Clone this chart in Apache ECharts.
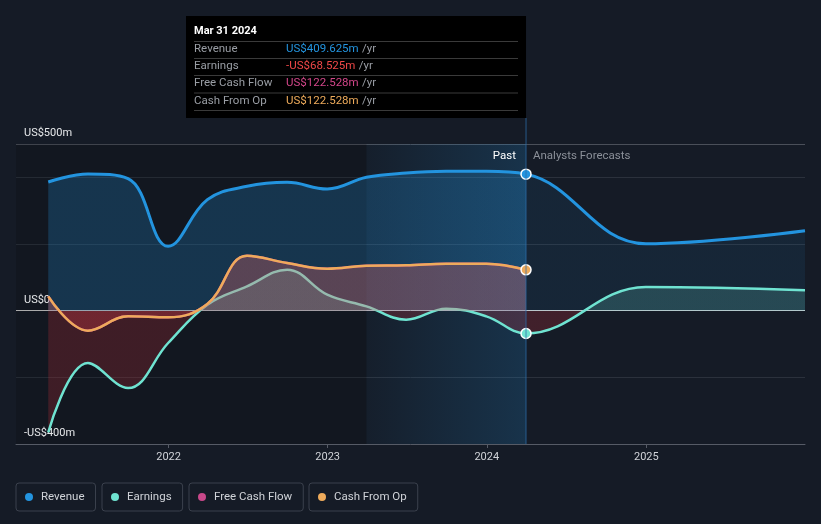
<!DOCTYPE html>
<html><head><meta charset="utf-8">
<script src="https://cdn.jsdelivr.net/npm/echarts@6/dist/echarts.min.js"></script>
<style>html,body{margin:0;padding:0;background:#151b26;}#c{width:821px;height:524px;}</style>
</head><body><div id="c"></div>
<script>
// ---- data ----
const pastDates = ['2021-03-31','2021-06-30','2021-09-30','2021-12-31','2022-03-31','2022-06-30','2022-09-30','2022-12-31','2023-03-31','2023-06-30','2023-09-30','2023-12-31','2024-03-31'];
const forecastDates = ['2024-12-31','2025-12-31'];
const revenuePast = [386,410,396,193,333,373,385,365,400,413,418,418,409.625];
const revenueForecast = [201,240];
const earningsPast = [-365,-157,-232,-97,18,73,123,48,13,-27,6,-17,-68.525];
const earningsForecast = [71,61];
const fcfPast = [43,-60,-17,-20,20,165,143,126,135,136,141,141,122.528];
const cfoPast = [43,-60,-17,-20,20,165,143,126,135,136,141,141,122.528];
const yLabelValues = [500,0,-400];
const yLabelTexts = ['US$500m','US$0','-US$400m'];
const seriesNames = ['Revenue','Earnings','Free Cash Flow','Cash From Op'];
const tooltipDate = 'Mar 31 2024';
const pastBandStart = '2023-03-31';
const axisStart = '2021-01-16';
const axisEnd = '2025-12-31';
const pastLabel = 'Past';
const forecastLabel = 'Analysts Forecasts';

// ---- styles ----
const C = {rev:'#2394df', earn:'#6fe3d1', fcf:'#c8488a', cfo:'#eeab5b', red:'#f04848', fcfTxt:'#d3468a'};
const FONT = 'Roboto, "Noto Sans", sans-serif';

const allDates = pastDates.concat(forecastDates);
const lastPast = pastDates[pastDates.length-1];
const lastIdx = pastDates.length-1;
function pts(dates, vals){ return dates.map((d,i)=>[d, vals[i]]); }
function withMarker(data, color){
  return data.map((p,i)=> i===lastIdx ? {value:p, symbol:'circle', symbolSize:10, itemStyle:{color:color, borderColor:'#ffffff', borderWidth:1.5}} : {value:p, symbol:'none'});
}
const revData = pts(allDates, revenuePast.concat(revenueForecast));
const earnData = pts(allDates, earningsPast.concat(earningsForecast));
const fcfData = pts(pastDates, fcfPast);
const cfoData = pts(pastDates, cfoPast);
const lastTs = +new Date(lastPast);
const startTs = +new Date(axisStart), endTs = +new Date(axisEnd);

const chart = echarts.init(document.getElementById('c'), null, {renderer:'canvas'});
const smooth = 0.4;
function legendFor(name, left){
  return {show:true, left:left, top:483, data:[name], icon:'circle', itemWidth:14, itemHeight:8,
    padding:[8,11,8,9], borderColor:'#3b414d', borderWidth:1, borderRadius:3, selectedMode:false,
    textStyle:{color:'#d0d3d8', fontSize:11.5, fontFamily:FONT}};
}
const option = {
  backgroundColor:'#151b26',
  animation:false,
  textStyle:{fontFamily:FONT},
  grid:{left:16, right:16, top:144, bottom:80, containLabel:false},
  legend:[legendFor(seriesNames[0],16), legendFor(seriesNames[1],102), legendFor(seriesNames[2],189), legendFor(seriesNames[3],309)],
  xAxis:{type:'time', min:axisStart, max:axisEnd,
    minInterval:365*24*3600*1000, maxInterval:366*24*3600*1000,
    axisLine:{onZero:false, lineStyle:{color:'#565b66', width:1}},
    axisTick:{show:true, length:4, lineStyle:{color:'#565b66'}},
    axisLabel:{color:'#d0d3d8', fontSize:11, margin:8, showMinLabel:false, showMaxLabel:false,
      formatter:function(v){const d=new Date(v); return (d.getMonth()===0 && d.getDate()===1)? String(d.getFullYear()):'';}},
    splitLine:{show:false}},
  yAxis:{type:'value', min:-400, max:500, interval:200,
    axisLine:{show:false}, axisTick:{show:false},
    axisLabel:{inside:true, margin:8, color:'#e6e8ea', fontSize:11, verticalAlign:'bottom', padding:[0,0,5,0],
      formatter:function(v){const i=yLabelValues.indexOf(v); return i>=0? yLabelTexts[i]:'';}},
    splitLine:{lineStyle:{color:['#2b313c','#2b313c','#c8c8c8','#2b313c','#2b313c','#4a4f59'], width:1}}},
  visualMap:[
    {type:'piecewise', show:false, seriesIndex:0, dimension:0,
      pieces:[{gte:startTs, lt:lastTs, color:'rgba(35,148,223,0.24)'},{gte:lastTs, lte:endTs, color:'rgba(35,148,223,0.09)'}]},
    {type:'piecewise', show:false, seriesIndex:2, dimension:1,
      pieces:[{gte:-1000, lt:0, color:'rgba(220,50,60,0.22)'},{gte:0, lte:1000, color:'rgba(113,231,214,0.18)'}]},
    {type:'piecewise', show:false, seriesIndex:4, dimension:1,
      pieces:[{gte:-1000, lt:0, color:'rgba(225,60,70,0.3)'},{gte:0, lte:1000, color:'rgba(230,100,100,0.32)'}]}
  ],
  series:[
    {name:'revArea', type:'line', data:revData, smooth:smooth, symbol:'none', silent:true, lineStyle:{width:0}, areaStyle:{opacity:1}, z:1},
    {name:seriesNames[0], type:'line', data:withMarker(revData, C.rev), smooth:smooth, symbol:'none', color:C.rev, lineStyle:{width:3, color:C.rev}, z:3},
    {name:'earnArea', type:'line', data:earnData, smooth:smooth, symbol:'none', silent:true, lineStyle:{width:0}, areaStyle:{opacity:1}, z:2},
    {name:seriesNames[1], type:'line', data:withMarker(earnData, C.earn), smooth:smooth, symbol:'none', color:C.earn, lineStyle:{width:2.5, color:C.earn}, z:2},
    {name:'cfoArea', type:'line', data:cfoData, smooth:smooth, symbol:'none', silent:true, lineStyle:{width:0}, areaStyle:{opacity:1}, z:3},
    {name:seriesNames[2], type:'line', data:fcfData, smooth:smooth, symbol:'none', color:C.fcf, lineStyle:{width:2.5, color:C.fcf}, z:3},
    {name:seriesNames[3], type:'line', data:withMarker(cfoData, C.cfo), smooth:smooth, symbol:'none', color:C.cfo, lineStyle:{width:2.5, color:C.cfo}, z:4}
  ]
};
chart.setOption(option);

// overlays positioned through the chart's own scales
const xA = chart.convertToPixel({xAxisIndex:0}, axisStart);
const xB = chart.convertToPixel({xAxisIndex:0}, pastBandStart);
const xC = chart.convertToPixel({xAxisIndex:0}, lastPast);
const yTop = chart.convertToPixel({yAxisIndex:0}, 500);
const yBot = chart.convertToPixel({yAxisIndex:0}, -400);
function fmt(v){ return (v<0?'-':'')+'US$'+Math.abs(v).toFixed(3)+'m'; }
const tipVals = [revenuePast[lastIdx], earningsPast[lastIdx], fcfPast[lastIdx], cfoPast[lastIdx]];
const tipColors = [C.rev, C.red, C.fcfTxt, C.cfo];
const tipW = 340, tipH = 102, tipX = xC - tipW, tipY = 16;
const TF = '11.5px '+FONT;
const g = [
  {type:'rect', z:0, silent:true, shape:{x:xA, y:yTop, width:xB-xA, height:yBot-yTop}, style:{fill:'rgba(0,0,0,0.14)'}},
  {type:'rect', z:0, silent:true, shape:{x:xB, y:yTop, width:xC-xB, height:yBot-yTop},
    style:{fill:new echarts.graphic.LinearGradient(0,0,1,0,[{offset:0,color:'rgba(35,148,223,0.03)'},{offset:1,color:'rgba(35,148,223,0.2)'}])}},
  {type:'line', z:5, silent:true, shape:{x1:xC, y1:tipY+tipH, x2:xC, y2:yBot}, style:{stroke:'rgba(45,110,170,0.75)', lineWidth:1}},
  {type:'text', z:6, silent:true, x:xC-10, y:156, style:{text:pastLabel, fill:'#ffffff', font:TF, align:'right', verticalAlign:'middle'}},
  {type:'text', z:6, silent:true, x:xC+7, y:156, style:{text:forecastLabel, fill:'#8b9099', font:TF, align:'left', verticalAlign:'middle'}},
  {type:'rect', z:10, silent:true, shape:{x:tipX, y:tipY, width:tipW, height:tipH}, style:{fill:'#000000'}},
  {type:'text', z:11, silent:true, x:tipX+8, y:31, style:{text:tooltipDate, fill:'#ffffff', font:'bold 11px '+FONT, verticalAlign:'middle'}}
];
const sepY = [41.5, 58.5, 75.5, 93, 110.5];
sepY.forEach(y=>g.push({type:'line', z:11, silent:true, shape:{x1:tipX+8, y1:y, x2:tipX+tipW-8, y2:y}, style:{stroke:'#3a3a3a', lineWidth:1}}));
const rowY = [49.5, 66.5, 83.5, 101];
seriesNames.forEach((n,i)=>{
  g.push({type:'text', z:11, silent:true, x:tipX+8, y:rowY[i], style:{text:n, fill:'#9a9ea5', font:TF, verticalAlign:'middle'}});
  g.push({type:'text', z:11, silent:true, x:tipX+100, y:rowY[i], style:{text:'{v|'+fmt(tipVals[i])+'} {u|/yr}', verticalAlign:'middle',
    rich:{v:{fill:tipColors[i], font:TF}, u:{fill:'#9a9ea5', font:TF}}}});
});
chart.setOption({graphic:g});
</script></body></html>
